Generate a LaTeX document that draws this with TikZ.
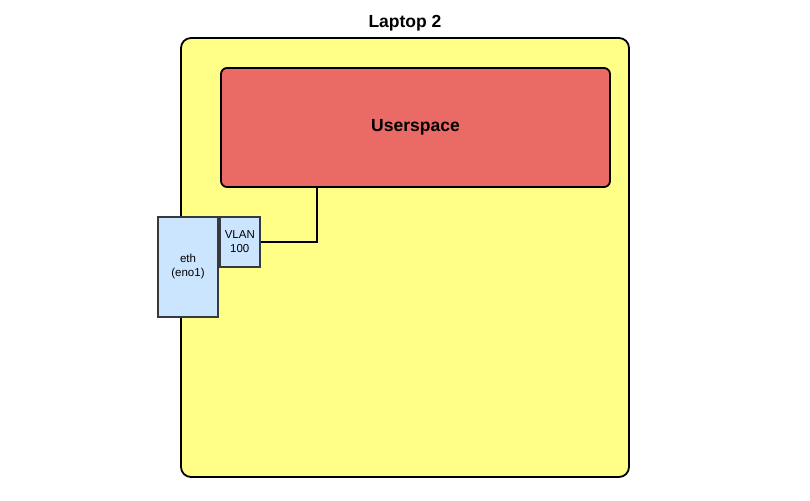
\documentclass[tikz,border=0pt]{standalone}
\usepackage{fontspec}
\setmainfont{Liberation Sans}
\usepackage{xcolor}
\usetikzlibrary{positioning}

\definecolor{hostfill}{HTML}{FFFF88}
\definecolor{userfill}{HTML}{EA6B66}
\definecolor{nicfill}{HTML}{CCE5FF}
\definecolor{nicline}{HTML}{36393D}

\begin{document}
\begin{tikzpicture}[
        x=1pt, y=-1pt,
        host/.style={
            draw,
            fill=hostfill,
            line width=1.8pt,
            rounded corners=10pt,
            minimum width=448pt,
            minimum height=439pt
        },
        userbox/.style={
            draw,
            fill=userfill,
            line width=1.8pt,
            rounded corners=6pt,
            minimum width=389pt,
            minimum height=119pt,
            font=\fontsize{17.5}{20}\selectfont\bfseries
        },
        port/.style={
            draw=nicline,
            fill=nicfill,
            line width=1.8pt,
            align=center,
            inner sep=0pt,
            font=\fontsize{11.5}{14}\selectfont
        },
        link/.style={line width=1.8pt}
    ]
        \useasboundingbox (0,0) rectangle (810,500);
        \node[font=\fontsize{17.5}{20}\selectfont\bfseries] (title) at (405,23.5) {Laptop 2};
        \node[host] (laptop) at (405,257.5) {};
        \node[userbox] (userspace) at (415.5,127.5) {\raisebox{-2pt}{Userspace}};
        \node[port, minimum width=60pt, minimum height=100pt] (eth) at (188,267) {eth\\(eno1)};
        \node[port, minimum width=40pt, minimum height=50pt, anchor=north west] (vlan) at (eth.north east) {VLAN\\100};

        \draw[link] ([xshift=97pt]userspace.south west) |- (vlan.east);
    \end{tikzpicture}
\end{document}
